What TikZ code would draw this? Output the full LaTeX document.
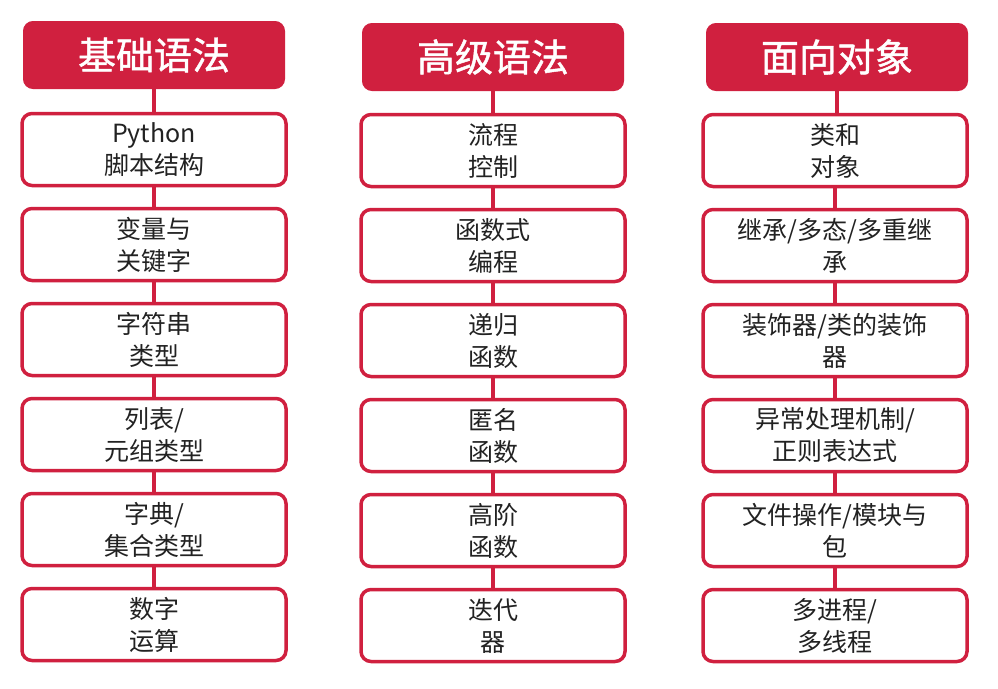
\documentclass[tikz,border=0pt]{standalone}
\usepackage{fontspec}
\usetikzlibrary{backgrounds}
\setmainfont{Noto Sans CJK SC}
\newfontfamily\hdfont[FakeBold=1.2]{Noto Sans CJK SC}
\definecolor{myred}{HTML}{D0203F}
\definecolor{mytext}{HTML}{222222}
\begin{document}
\begin{tikzpicture}[x=1pt,y=-1pt,
  hdbox/.style={draw=myred,fill=myred,line width=2pt,rounded corners=9pt,minimum width=260pt,minimum height=66pt,text=white,font=\hdfont\fontsize{38}{40}\selectfont,inner sep=0pt},
  itbox/.style={draw=myred,fill=white,line width=3.5pt,rounded corners=10pt,minimum width=264pt,minimum height=72pt,text=mytext,font=\fontsize{25}{32}\selectfont,align=center,inner sep=0pt},
  conn/.style={draw=myred,line width=4pt}]
\useasboundingbox (0,0) rectangle (998,688);
% column centers
\def\ca{154}\def\cb{493}\def\cc{835}
% headers
\node[hdbox] (h1) at (\ca,55) {基础语法};
\node[hdbox] (h2) at (\cb,57) {高级语法};
\node[hdbox] (h3) at (837,57) {面向对象};
% column 1
\node[itbox] (a1) at (\ca,149.5) {Python\\脚本结构};
\node[itbox] (a2) at (\ca,244.5) {变量与\\关键字};
\node[itbox] (a3) at (\ca,339.5) {字符串\\类型};
\node[itbox] (a4) at (\ca,434.5) {列表/\\元组类型};
\node[itbox] (a5) at (\ca,529.5) {字典/\\集合类型};
\node[itbox] (a6) at (\ca,624.5) {数字\\运算};
% column 2
\node[itbox] (b1) at (\cb,150.5) {流程\\控制};
\node[itbox] (b2) at (\cb,245.5) {函数式\\编程};
\node[itbox] (b3) at (\cb,340.5) {递归\\函数};
\node[itbox] (b4) at (\cb,435.5) {匿名\\函数};
\node[itbox] (b5) at (\cb,530.5) {高阶\\函数};
\node[itbox] (b6) at (\cb,625.5) {迭代\\器};
% column 3
\node[itbox] (c1) at (\cc,150.5) {类和\\对象};
\node[itbox] (c2) at (\cc,245.5) {继承/多态/多重继\\承};
\node[itbox] (c3) at (\cc,340.5) {装饰器/类的装饰\\器};
\node[itbox] (c4) at (\cc,435.5) {异常处理机制/\\正则表达式};
\node[itbox] (c5) at (\cc,530.5) {文件操作/模块与\\包};
\node[itbox] (c6) at (\cc,625.5) {多进程/\\多线程};
% connectors
\begin{scope}[on background layer]
\foreach \p/\h in {a/h1,b/h2,c/h3}{
  \draw[conn] (\h.center |- \p1.north) -- (\h.center);
  \foreach \i [evaluate=\i as \j using int(\i+1)] in {1,...,5}{
    \draw[conn] (\p\i.center) -- (\p\j.center);
  }
}
\end{scope}
\end{tikzpicture}
\end{document}
